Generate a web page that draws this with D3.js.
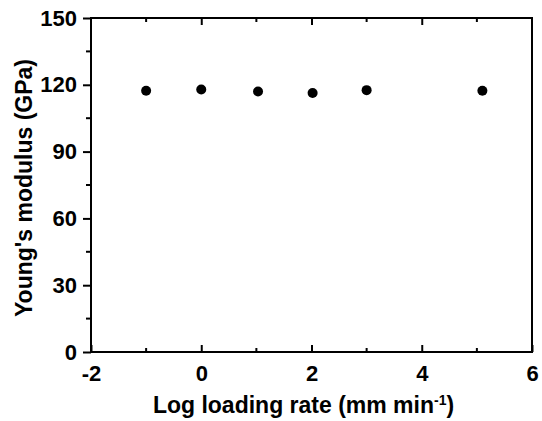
<!DOCTYPE html>
<html>
<head>
<meta charset="utf-8">
<script src="https://cdn.jsdelivr.net/npm/d3@7"></script>
<style>
  body { margin: 0; background: #fff; }
  text { font-family: "Liberation Sans", Arial, sans-serif; font-weight: bold; fill: #000; }
</style>
</head>
<body>
<div id="chart"></div>
<script>
// values
const logRate = [-1, 0, 1.03, 2.02, 3, 5.1];
const modulus = [117.3, 117.9, 117.0, 116.3, 117.6, 117.3];
const xTicks = [-2, 0, 2, 4, 6];
const xMinor = [-1, 1, 3, 5];
const yTicks = [0, 30, 60, 90, 120, 150];
const yMinor = [15, 45, 75, 105, 135];

const width = 542, height = 421;
const margin = { left: 91, right: 10, top: 18, bottom: 69 };

const svg = d3.select("#chart").append("svg")
  .attr("width", width)
  .attr("height", height);

const x = d3.scaleLinear().domain([-2, 6]).range([margin.left, width - margin.right]);
const y = d3.scaleLinear().domain([0, 150]).range([height - margin.bottom, margin.top]);

// frame
svg.append("rect")
  .attr("x", x(-2)).attr("y", y(150))
  .attr("width", x(6) - x(-2)).attr("height", y(0) - y(150))
  .attr("fill", "none").attr("stroke", "#000").attr("stroke-width", 2);

// bottom axis, ticks pointing in
const xAxis = d3.axisBottom(x).tickValues(xTicks).tickSize(-7)
  .tickFormat(d => String(d)); // plain hyphen, not unicode minus
const gx = svg.append("g").attr("transform", `translate(0,${y(0)})`).call(xAxis);
gx.select(".domain").remove();
gx.selectAll("line").attr("stroke-width", 2);
gx.selectAll("text").attr("font-size", 22).attr("dy", "0.71em").attr("y", 13);

svg.append("g").selectAll("line").data(xMinor).join("line")
  .attr("x1", d => x(d)).attr("x2", d => x(d))
  .attr("y1", y(0)).attr("y2", y(0) - 4)
  .attr("stroke", "#000").attr("stroke-width", 2);

// top axis ticks, pointing in
const gt = svg.append("g").attr("transform", `translate(0,${y(150)})`)
  .call(d3.axisTop(x).tickValues([0, 2, 4]).tickSize(-7).tickFormat(""));
gt.select(".domain").remove();
gt.selectAll("line").attr("stroke-width", 2);
svg.append("g").selectAll("line").data(xMinor).join("line")
  .attr("x1", d => x(d)).attr("x2", d => x(d))
  .attr("y1", y(150)).attr("y2", y(150) + 4)
  .attr("stroke", "#000").attr("stroke-width", 2);

// left axis, ticks pointing out
const yAxis = d3.axisLeft(y).tickValues(yTicks).tickSize(8).tickPadding(6);
const gy = svg.append("g").attr("transform", `translate(${x(-2)},0)`).call(yAxis);
gy.select(".domain").remove();
gy.selectAll("line").attr("stroke-width", 2);
gy.selectAll("text").attr("font-size", 22);

svg.append("g").selectAll("line").data(yMinor).join("line")
  .attr("x1", x(-2) - 5).attr("x2", x(-2))
  .attr("y1", d => y(d)).attr("y2", d => y(d))
  .attr("stroke", "#000").attr("stroke-width", 2);

// points
svg.append("g").selectAll("circle").data(logRate).join("circle")
  .attr("cx", d => x(d))
  .attr("cy", (d, i) => y(modulus[i]))
  .attr("r", 5)
  .attr("fill", "#000");

// axis titles
const xt = svg.append("text")
  .attr("x", (x(-2) + x(6)) / 2 - 8)
  .attr("y", 413)
  .attr("text-anchor", "middle")
  .attr("font-size", 23);
xt.append("tspan").text("Log loading rate (mm min");
xt.append("tspan").text("-1").attr("font-size", 14).attr("dy", -8);
xt.append("tspan").text(")").attr("dy", 8);

svg.append("text")
  .attr("transform", `translate(32,${(y(0) + y(150)) / 2 + 3}) rotate(-90)`)
  .attr("text-anchor", "middle")
  .attr("font-size", 23)
  .text("Young's modulus (GPa)");
</script>
</body>
</html>
